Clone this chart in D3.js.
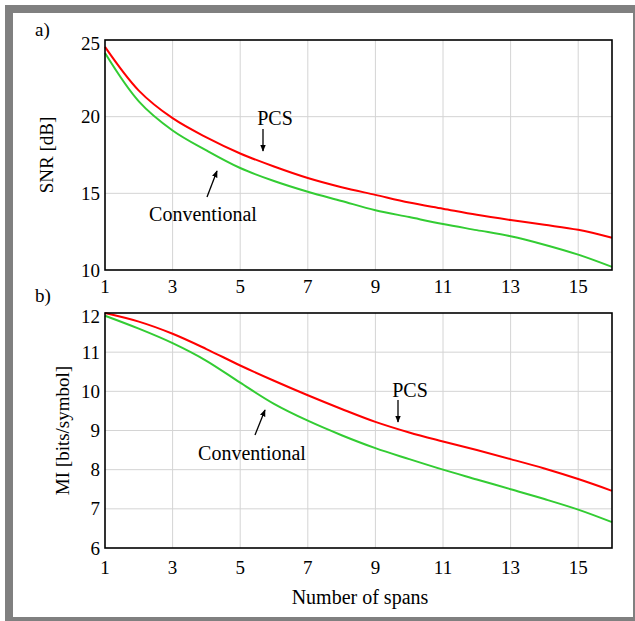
<!DOCTYPE html>
<html lang="en">
  <head>
    <meta charset="utf-8">
    <title>SNR and MI vs spans</title>
    <script src="https://d3js.org/d3.v7.js"></script>
    <style>
      body { margin: 0; background: white; }
    </style>
  </head>

  <body>

  <script>

// data
  var spans = [1, 2, 3, 4, 5, 6, 7, 8, 9, 10, 11, 12, 13, 14, 15, 16];

  var snrPCS  = [24.55, 21.7, 19.9, 18.65, 17.6, 16.75, 16.0, 15.4, 14.9, 14.4, 14.0, 13.6, 13.26, 12.95, 12.62, 12.1];
  var snrConv = [24.15, 21.0, 19.1, 17.8, 16.65, 15.8, 15.1, 14.5, 13.9, 13.45, 13.0, 12.6, 12.2, 11.65, 11.0, 10.2];

  var miPCS  = [12.0, 11.78, 11.47, 11.08, 10.66, 10.27, 9.9, 9.55, 9.22, 8.95, 8.72, 8.5, 8.27, 8.03, 7.76, 7.46];
  var miConv = [11.93, 11.6, 11.23, 10.78, 10.22, 9.68, 9.25, 8.88, 8.55, 8.27, 8.0, 7.75, 7.5, 7.25, 6.98, 6.66];

  var xTicks = [1, 3, 5, 7, 9, 11, 13, 15];
  var snrTicks = [10, 15, 20, 25];
  var miTicks = [6, 7, 8, 9, 10, 11, 12];

  var w = 635;
  var h = 621;
  var serif = "'Liberation Serif', 'Times New Roman', Times, serif";

  var svg = d3.select("body")
    .append("svg")
      .attr("width", w)
      .attr("height", h)
      .attr("font-family", serif)
      .style("font-family", serif);

  // gray frame
  svg.append("rect")
      .attr("x", 5).attr("y", 5)
      .attr("width", w - 5).attr("height", h - 5)
      .attr("fill", "#808080");
  svg.append("rect")
      .attr("x", 13).attr("y", 13)
      .attr("width", 620).attr("height", 604)
      .attr("fill", "white");

  svg.append("defs").append("marker")
      .attr("id", "arrow")
      .attr("viewBox", "0 0 10 10")
      .attr("refX", 9).attr("refY", 5)
      .attr("markerWidth", 7).attr("markerHeight", 7)
      .attr("markerUnits", "userSpaceOnUse")
      .attr("orient", "auto")
    .append("path")
      .attr("d", "M0,1 L10,5 L0,9 z")
      .attr("fill", "black");

  var xScale = d3.scaleLinear()
      .domain([1, 16])
      .range([105, 612]);

  function panel(opt) {
    var top = opt.top, bottom = opt.bottom;
    var yScale = d3.scaleLinear()
        .domain(opt.yDomain)
        .range([bottom, top]);

    var g = svg.append("g");

    // grid
    g.selectAll(".vg")
      .data(xTicks.slice(1))
      .enter().append("line")
        .attr("x1", d => xScale(d)).attr("x2", d => xScale(d))
        .attr("y1", top).attr("y2", bottom)
        .attr("stroke", "#d4d4d4").attr("stroke-width", 1);
    g.selectAll(".hg")
      .data(opt.yTicks.slice(1, -1))
      .enter().append("line")
        .attr("x1", xScale(1)).attr("x2", xScale(16))
        .attr("y1", d => yScale(d)).attr("y2", d => yScale(d))
        .attr("stroke", "#d4d4d4").attr("stroke-width", 1);

    var line = d3.line()
        .x((d, i) => xScale(spans[i]))
        .y(d => yScale(d))
        .curve(d3.curveCatmullRom.alpha(0.5));

    g.append("path")
        .attr("d", line(opt.green))
        .attr("fill", "none")
        .attr("stroke", "#33cc33")
        .attr("stroke-width", 2);
    g.append("path")
        .attr("d", line(opt.red))
        .attr("fill", "none")
        .attr("stroke", "#ff0000")
        .attr("stroke-width", 2);

    // frame
    g.append("rect")
        .attr("x", xScale(1)).attr("y", top)
        .attr("width", xScale(16) - xScale(1)).attr("height", bottom - top)
        .attr("fill", "none")
        .attr("stroke", "black")
        .attr("stroke-width", 1.6);

    // tick labels (top one is pushed down a little, like the original)
    g.selectAll(".yt")
      .data(opt.yTicks)
      .enter().append("text")
        .attr("x", xScale(1) - 5)
        .attr("y", d => yScale(d) + (d === opt.yDomain[1] ? 10 : 6.5))
        .attr("text-anchor", "end")
        .attr("font-size", 19)
        .text(d => d);
    g.selectAll(".xt")
      .data(xTicks)
      .enter().append("text")
        .attr("x", d => xScale(d))
        .attr("y", bottom + opt.xLabDy)
        .attr("text-anchor", "middle")
        .attr("font-size", 19)
        .text(d => d);

    g.append("text")
        .attr("transform", "translate(" + opt.ylabX + "," + ((top + bottom) / 2) + ") rotate(-90)")
        .attr("text-anchor", "middle")
        .attr("font-size", 19)
        .text(opt.ylab);

    g.append("text")
        .attr("x", 35).attr("y", opt.tagY)
        .attr("font-size", 19)
        .text(opt.tag);

    opt.notes.forEach(function(n) {
      g.append("text")
          .attr("x", n.tx).attr("y", n.ty)
          .attr("text-anchor", "middle")
          .attr("font-size", 20)
          .text(n.label);
      g.append("line")
          .attr("x1", n.ax1).attr("y1", n.ay1)
          .attr("x2", n.ax2).attr("y2", n.ay2)
          .attr("stroke", "black").attr("stroke-width", 1.3)
          .attr("marker-end", "url(#arrow)");
    });

    return yScale;
  }

  panel({
    top: 40, bottom: 270, yDomain: [10, 25], yTicks: snrTicks,
    red: snrPCS, green: snrConv, ylab: "SNR [dB]", ylabX: 53, tag: "a)", tagY: 36, xLabDy: 23,
    notes: [
      {label: "PCS", tx: 275, ty: 125, ax1: 263, ay1: 129, ax2: 263, ay2: 151},
      {label: "Conventional", tx: 203, ty: 221, ax1: 207, ay1: 197, ax2: 217, ay2: 171}
    ]
  });

  panel({
    top: 313, bottom: 548, yDomain: [6, 12], yTicks: miTicks,
    red: miPCS, green: miConv, ylab: "MI [bits/symbol]", ylabX: 69, tag: "b)", tagY: 302, xLabDy: 26,
    notes: [
      {label: "PCS", tx: 410, ty: 397, ax1: 398, ay1: 400, ax2: 398, ay2: 422},
      {label: "Conventional", tx: 252, ty: 460, ax1: 255, ay1: 435, ax2: 265, ay2: 410}
    ]
  });

  svg.append("text")
      .attr("x", 360)
      .attr("y", 604)
      .attr("text-anchor", "middle")
      .attr("font-size", 20)
      .text("Number of spans");

    </script>

  </body>

</html>
